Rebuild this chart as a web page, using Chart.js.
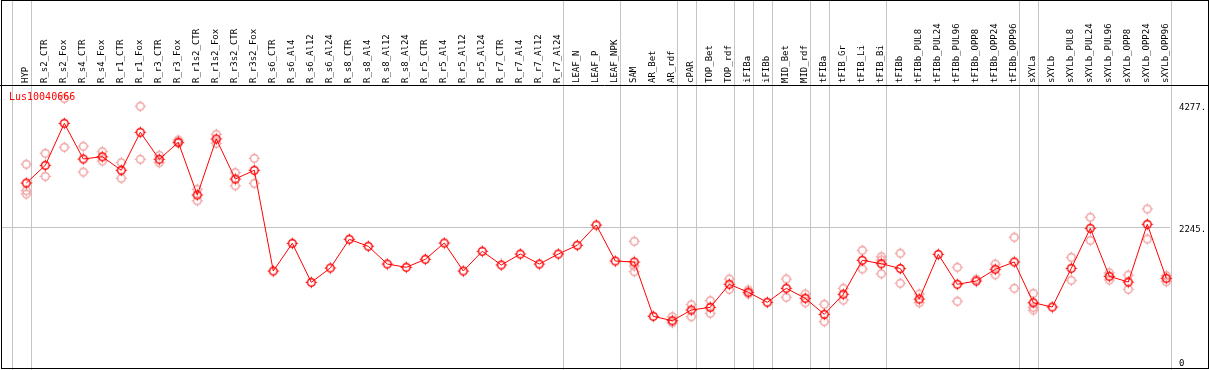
<!DOCTYPE html>
<html>
<head>
<meta charset="utf-8">
<script src="https://cdn.jsdelivr.net/npm/chart.js@4/dist/chart.umd.min.js"></script>
<style>
  html, body { margin: 0; padding: 0; background: #ffffff; }
  canvas { display: block; }
</style>
</head>
<body>
<canvas id="c" width="1209" height="370"></canvas>
<script>
const GENE = 'Lus10040666';

const CATEGORIES = [
  'HYP','R_s2_CTR','R_s2_Fox','R_s4_CTR','R_s4_Fox','R_r1_CTR','R_r1_Fox','R_r3_CTR','R_r3_Fox','R_r1s2_CTR',
  'R_r1s2_Fox','R_r3s2_CTR','R_r3s2_Fox','R_s6_CTR','R_s6_Al4','R_s6_Al12','R_s6_Al24','R_s8_CTR','R_s8_Al4','R_s8_Al12',
  'R_s8_Al24','R_r5_CTR','R_r5_Al4','R_r5_Al12','R_r5_Al24','R_r7_CTR','R_r7_Al4','R_r7_Al12','R_r7_Al24','LEAF_N',
  'LEAF_P','LEAF_NPK','SAM','AR_Bet','AR_rdf','cPAR','TOP_Bet','TOP_rdf','iFIBa','iFIBb',
  'MID_Bet','MID_rdf','tFIBa','tFIB_Gr','tFIB_Li','tFIB_Bi','tFIBb','tFIBb_PUL8','tFIBb_PUL24','tFIBb_PUL96',
  'tFIBb_OPP8','tFIBb_OPP24','tFIBb_OPP96','sXYLa','sXYLb','sXYLb_PUL8','sXYLb_PUL24','sXYLb_PUL96','sXYLb_OPP8','sXYLb_OPP24',
  'sXYLb_OPP96'
];

// mean expression per sample
const MEAN = [
  2992,3288,3990,3394,3432,3205,3840,3389,3673,2792,
  3728,3059,3205,1521,1984,1332,1571,2051,1934,1638,
  1583,1717,1989,1521,1851,1622,1805,1638,1805,1951,
  2290,1688,1672,764,690,869,914,1299,1165,998,
  1232,1065,797,1132,1700,1643,1563,1053,1800,1299,
  1354,1550,1672,991,919,1566,2235,1433,1337,2302,
  1399
];

// individual replicates
const REP_A = [
  3305,3489,4408,3606,3516,3332,4275,3455,3711,2887,
  3806,3165,3405,null,null,null,null,null,null,null,
  null,null,null,null,null,null,null,null,null,null,
  null,null,2018,null,757,958,1025,1388,1204,null,
  1388,1137,965,1232,1867,1760,1817,1137,null,1583,
  1383,1638,2085,1148,null,1750,2419,1493,1454,2558,
  1443
];
const REP_B = [
  2864,3104,3589,3176,3360,3071,3389,3332,3661,2696,
  3656,2947,2987,null,null,null,null,null,null,null,
  null,null,null,null,null,null,null,null,null,null,
  null,null,1605,null,657,757,814,1215,1137,null,
  1082,991,674,1036,1555,1705,1316,991,null,1015,
  null,1459,1232,914,null,1366,2034,1371,1215,2056,
  1342
];
const REP_C = [
  2808,null,null,null,null,null,null,null,null,null,
  null,null,null,null,null,null,null,null,null,null,
  null,null,null,null,null,null,null,null,null,null,
  null,null,1510,null,null,null,null,null,null,null,
  null,null,null,null,null,1476,null,null,null,null,
  null,null,null,869,null,null,null,null,null,null,
  null
];

const Y_TICKS = [0, 2245, 4277];
// group boundaries (index of last sample in each group)
const GROUP_ENDS = [-1, 0, 28, 31, 34, 35, 37, 38, 39, 41, 42, 45, 52, 53, 60];

function makeMarker(color) {
  const c = document.createElement('canvas');
  c.width = 13; c.height = 13;
  const g = c.getContext('2d');
  g.strokeStyle = color;
  g.lineWidth = 1.4;
  g.beginPath();
  g.arc(6.5, 6.5, 3.8, 0, Math.PI * 2);
  g.stroke();
  g.lineWidth = 1;
  g.beginPath();
  g.moveTo(6.5, 0.8); g.lineTo(6.5, 2.6);
  g.moveTo(6.5, 10.4); g.lineTo(6.5, 12.2);
  g.moveTo(0.8, 6.5); g.lineTo(2.6, 6.5);
  g.moveTo(10.4, 6.5); g.lineTo(12.2, 6.5);
  g.stroke();
  return c;
}

const meanPts = MEAN.map((v, i) => ({ x: i, y: v }));
const repPts = [];
[REP_A, REP_B, REP_C].forEach(arr => arr.forEach((v, i) => { if (v !== null) repPts.push({ x: i, y: v }); }));

const framePlugin = {
  id: 'frame',
  beforeDatasetsDraw(chart) {
    const ctx = chart.ctx, x = chart.scales.x;
    ctx.save();
    ctx.strokeStyle = '#c4c4c4';
    ctx.lineWidth = 1;
    GROUP_ENDS.forEach(i => {
      const px = Math.round(x.getPixelForValue(i + 0.23)) + 0.5;
      ctx.beginPath();
      ctx.moveTo(px, 0);
      ctx.lineTo(px, chart.height);
      ctx.stroke();
    });
    ctx.restore();
  },
  afterDraw(chart) {
    const ctx = chart.ctx, a = chart.chartArea;
    ctx.save();
    ctx.strokeStyle = '#000000';
    ctx.lineWidth = 1;
    ctx.strokeRect(1.5, 0.5, chart.width - 2, Math.round(a.bottom));
    ctx.beginPath();
    ctx.moveTo(0, Math.round(a.top) - 0.5);
    ctx.lineTo(chart.width, Math.round(a.top) - 0.5);
    ctx.stroke();
    ctx.fillStyle = '#ff0000';
    ctx.font = '10px "DejaVu Sans Mono"';
    ctx.textBaseline = 'middle';
    ctx.textAlign = 'left';
    ctx.fillText(GENE, a.left + 7, a.top + 11);
    ctx.restore();
  }
};

new Chart(document.getElementById('c'), {
  data: {
    datasets: [
      {
        type: 'line',
        data: meanPts,
        borderColor: '#ff0000',
        borderWidth: 1,
        pointStyle: makeMarker('#ff0000'),
        pointRadius: 4,
        tension: 0,
        clip: false,
        order: 0
      },
      {
        type: 'scatter',
        data: repPts,
        pointStyle: makeMarker('#f0a0a0'),
        pointRadius: 4,
        clip: false,
        order: 1
      }
    ]
  },
  options: {
    responsive: false,
    animation: false,
    devicePixelRatio: 1,
    layout: { autoPadding: false, padding: { top: 0, left: 2, right: 0, bottom: 2 } },
    plugins: { legend: { display: false }, tooltip: { enabled: false }, title: { display: false } },
    scales: {
      x: {
        type: 'linear',
        position: 'top',
        min: -1.2789,
        max: 60.195,
        afterBuildTicks: s => { s.ticks = CATEGORIES.map((c, i) => ({ value: i })); },
        afterFit: s => { s.height = 86; s.paddingLeft = 0; s.paddingRight = 0; s.paddingTop = 0; s.paddingBottom = 0; },
        grid: { display: false, drawTicks: false },
        border: { display: false },
        ticks: {
          autoSkip: false,
          minRotation: 90,
          maxRotation: 90,
          padding: 3,
          labelOffset: 10,
          color: '#000000',
          font: { family: 'DejaVu Sans Mono', size: 9 },
          callback: v => CATEGORIES[v]
        }
      },
      y: {
        type: 'linear',
        position: 'right',
        min: -100.3,
        max: 4613.9,
        afterBuildTicks: s => { s.ticks = Y_TICKS.map(v => ({ value: v })); },
        afterFit: s => { s.width = 39; s.paddingLeft = 0; s.paddingRight = 0; s.paddingTop = 0; s.paddingBottom = 0; },
        grid: {
          drawTicks: false,
          color: c => (c.tick && c.tick.value === 2245) ? '#c4c4c4' : 'rgba(0,0,0,0)'
        },
        border: { display: false },
        ticks: {
          padding: 9,
          labelOffset: 2,
          color: '#000000',
          font: { family: 'DejaVu Sans Mono', size: 9 },
          callback: v => v === 0 ? '0' : v + '.'
        }
      }
    }
  },
  plugins: [framePlugin]
});
</script>
</body>
</html>
